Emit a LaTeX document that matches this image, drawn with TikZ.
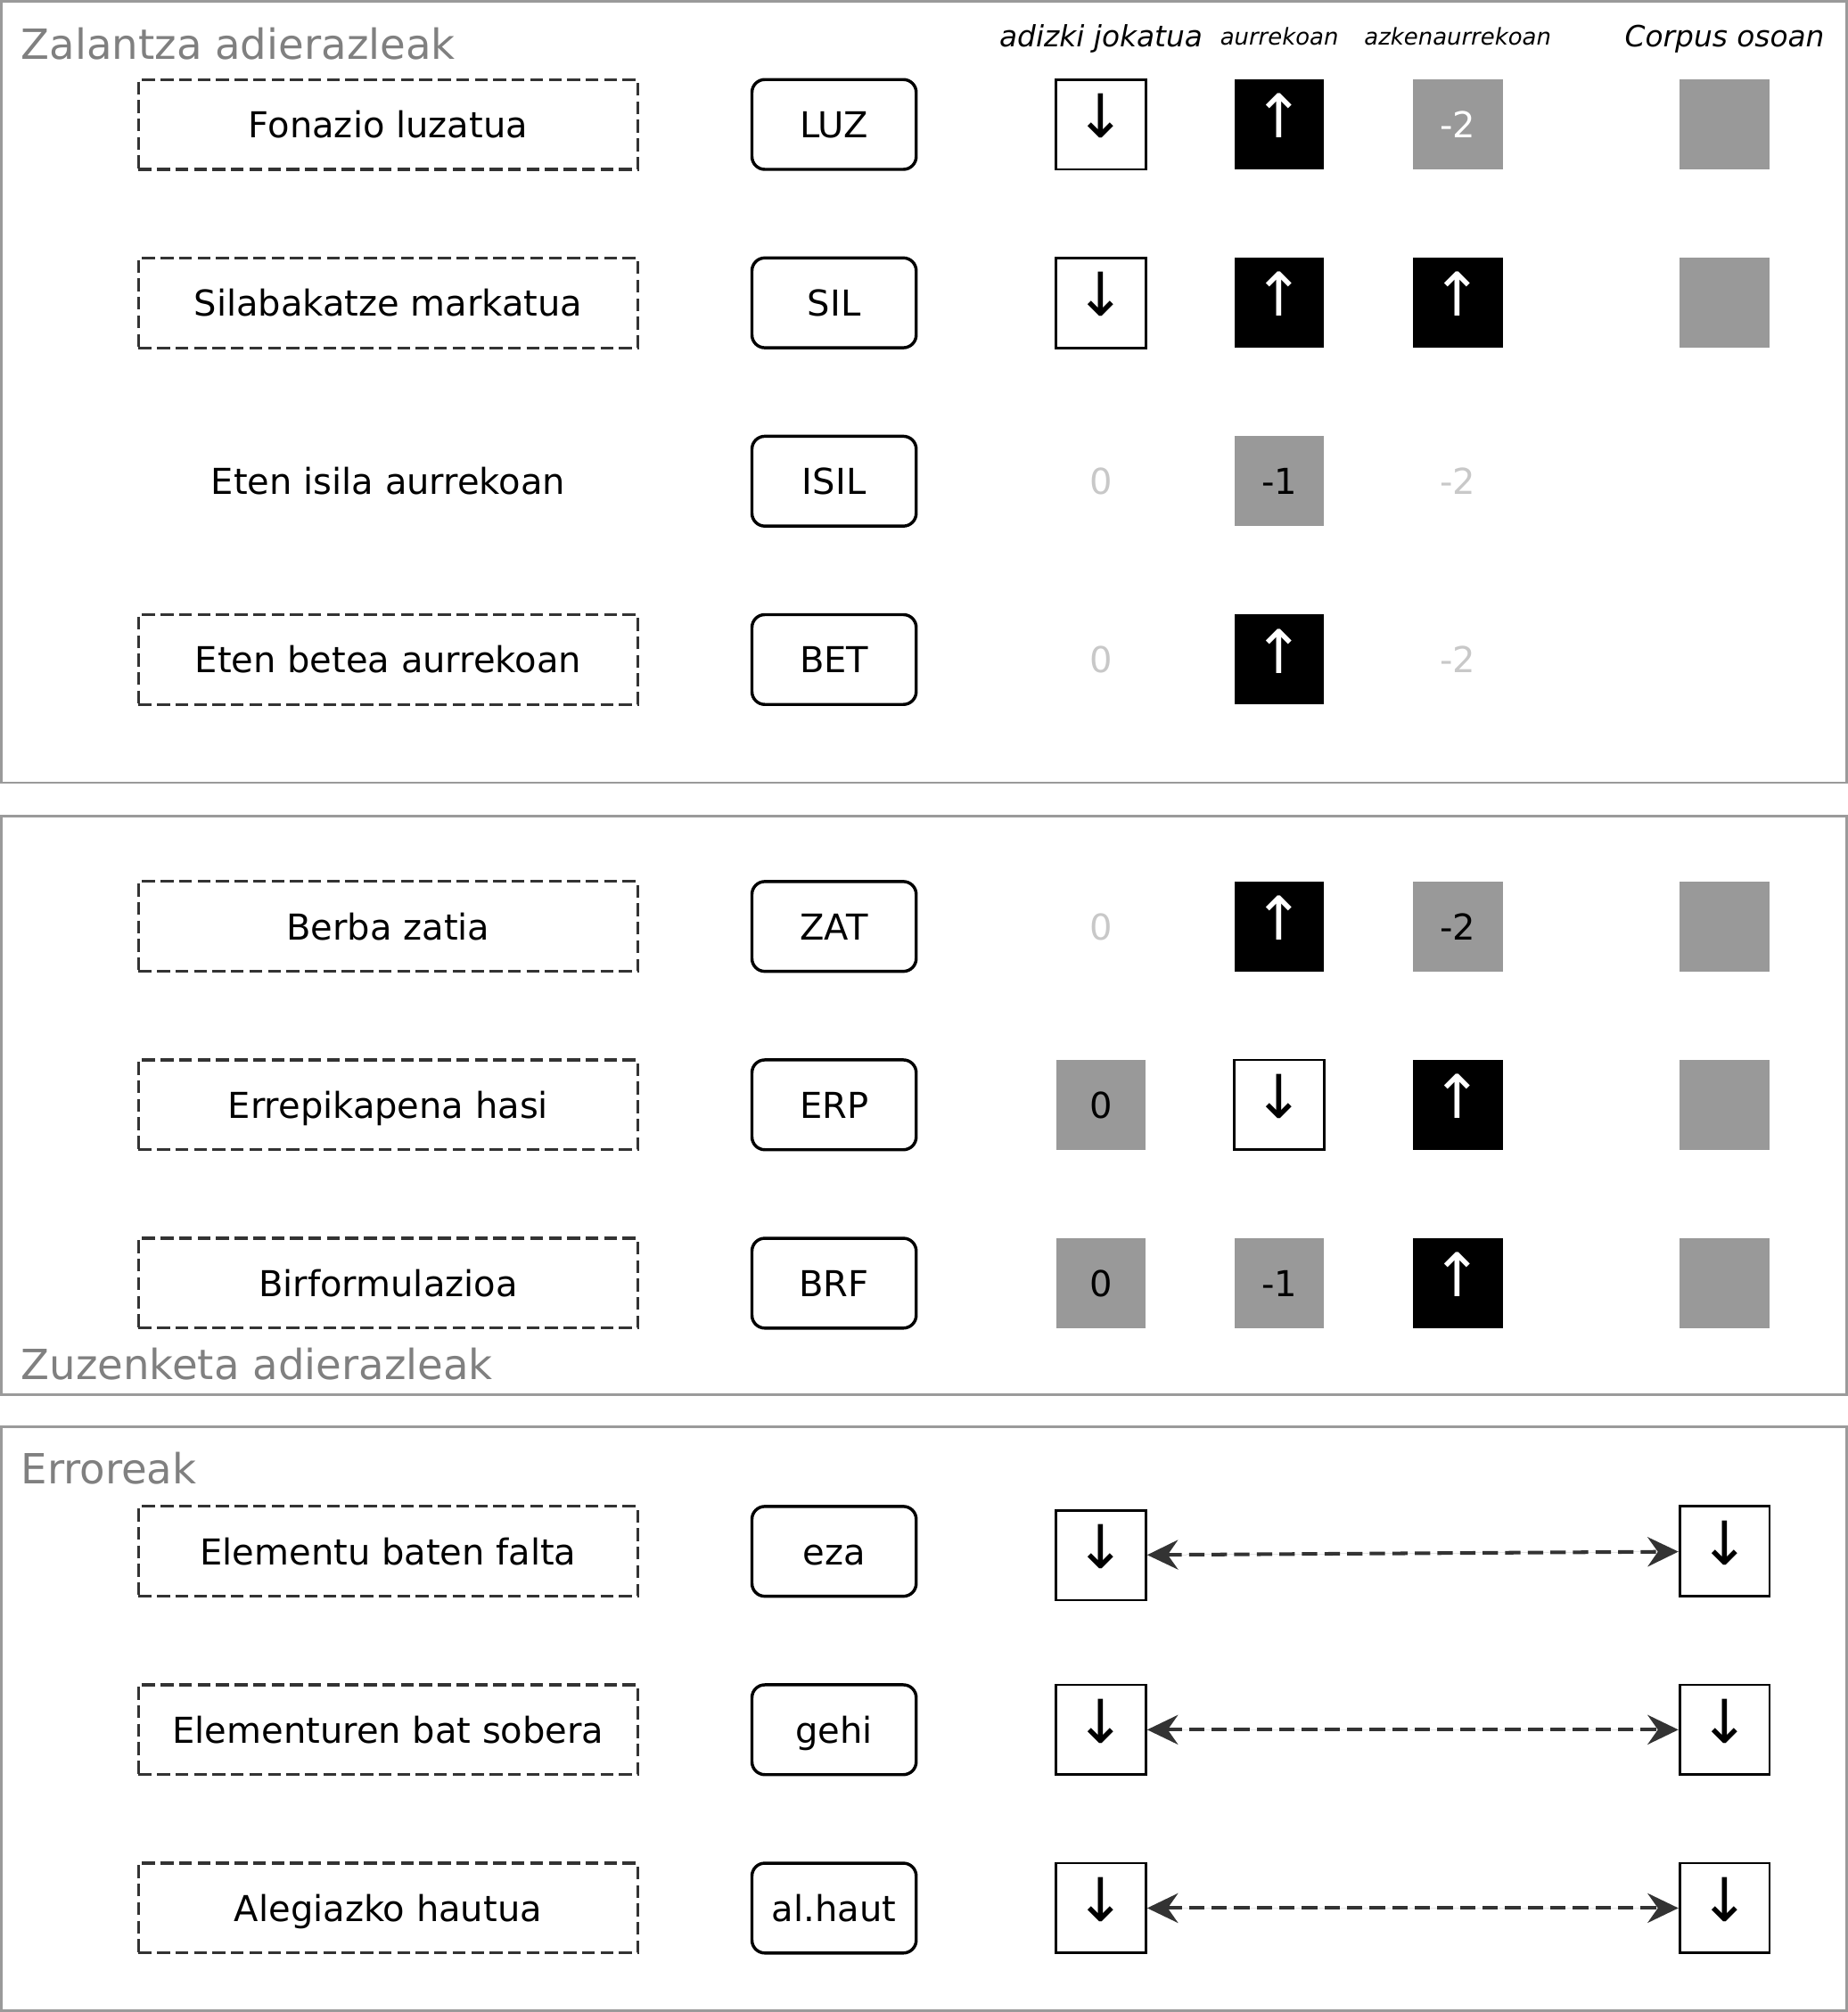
\documentclass[tikz,border=0pt]{standalone}
\usepackage{fontspec}
\setmainfont{DejaVu Sans}
\usetikzlibrary{arrows.meta}

\definecolor{framegray}{HTML}{9A9A9A}
\definecolor{titlegray}{HTML}{808080}
\definecolor{cellgray}{HTML}{999999}
\definecolor{zerogray}{HTML}{C8C8C8}
\definecolor{darkline}{HTML}{333333}

\newcommand{\arrowfont}{\fontsize{23.5}{24}\selectfont}
\newcommand{\boxfont}{\fontsize{13.9}{16}\selectfont}
\newcommand{\celldown}{\raisebox{3.3pt}[\height][\depth]{↓}}
\newcommand{\cellup}{\raisebox{3.3pt}[\height][\depth]{↑}}

\begin{document}
\begin{tikzpicture}[x=0.5pt, y=-0.5pt,
	panel/.style={draw=framegray, line width=1pt},
	paneltitle/.style={anchor=west, inner sep=0pt, text=titlegray, font=\fontsize{16.2}{19}\selectfont},
	header/.style={text depth=0pt, font=\fontsize{11.4}{14}\itshape},
	smallheader/.style={text depth=0pt, font=\fontsize{9}{11}\itshape},
	labelbox/.style={draw=darkline, dash pattern=on 5pt off 2.2pt, line width=1.1pt, minimum width=194.5pt, minimum height=35pt, text height=10.5pt, text depth=0pt, font=\boxfont},
	codebox/.style={draw, rounded corners=5pt, line width=1.2pt, minimum width=64pt, minimum height=35pt, text height=10.5pt, text depth=0pt, font=\boxfont},
	cellbox/.style={minimum size=35pt, inner sep=0pt, text height=10.5pt, text depth=0pt, font=\boxfont},
	arrowcell/.style={minimum size=35pt, inner sep=0pt, font=\arrowfont},
	whitecell/.style={arrowcell, draw, line width=1pt},
	blackcell/.style={arrowcell, fill=black, text=white},
	graycell/.style={cellbox, fill=cellgray},
	zerotext/.style={cellbox, text=zerogray},
	biarrow/.style={{Stealth[length=12pt, width=11.5pt, inset=4pt]}-{Stealth[length=12pt, width=11.5pt, inset=4pt]}, draw=darkline, fill=darkline, line width=1.4pt, dash pattern=on 6pt off 2.8pt}
	]
	\useasboundingbox (0,0) rectangle (1440,1568);

	% panels
	\draw[panel] (1,1) rectangle (1439,610);
	\draw[panel] (1,636) rectangle (1439,1087);
	\draw[panel] (1,1112) rectangle (1439,1567);
	\node[paneltitle] (zalantza) at (16,34) {Zalantza adierazleak};
	\node[paneltitle] (zuzenketa) at (16,1063) {Zuzenketa adierazleak};
	\node[paneltitle] (erroreak) at (16,1144) {Erroreak};

	% column headers
	\node[header] (h-adizki) at (858,28) {adizki jokatua};
	\node[smallheader] (h-aurre) at (997,28) {aurrekoan};
	\node[smallheader] (h-azken) at (1136,28) {azkenaurrekoan};
	\node[header] (h-corpus) at (1344,28) {Corpus osoan};

	% rows
	\foreach \name/\txt/\code/\yy in {luz/Fonazio luzatua/LUZ/97, sil/Silabakatze markatua/SIL/236, bet/Eten betea aurrekoan/BET/514, zat/Berba zatia/ZAT/722, erp/Errepikapena hasi/ERP/861, brf/Birformulazioa/BRF/1000, eza/Elementu baten falta/eza/1209, gehi/Elementuren bat sobera/gehi/1348, alh/Alegiazko hautua/al.haut/1487} {
		\node[labelbox] (\name-txt) at (302.5,\yy) {\txt};
		\node[codebox] (\name-code) at (650,\yy) {\code};
	}
	\node[cellbox] (isil-txt) at (302.5,375) {Eten isila aurrekoan};
	\node[codebox] (isil-code) at (650,375) {ISIL};

	% cells
	\node[whitecell] (luz-c1) at (858,97) {\celldown};
	\node[blackcell] (luz-c2) at (997,97) {\cellup};
	\node[graycell, text=white] (luz-c3) at (1136,97) {-2};
	\node[graycell] (luz-c4) at (1344,97) {};

	\node[whitecell] (sil-c1) at (858,236) {\celldown};
	\node[blackcell] (sil-c2) at (997,236) {\cellup};
	\node[blackcell] (sil-c3) at (1136,236) {\cellup};
	\node[graycell] (sil-c4) at (1344,236) {};

	\node[zerotext] (isil-c1) at (858,375) {0};
	\node[graycell] (isil-c2) at (997,375) {-1};
	\node[zerotext] (isil-c3) at (1136,375) {-2};

	\node[zerotext] (bet-c1) at (858,514) {0};
	\node[blackcell] (bet-c2) at (997,514) {\cellup};
	\node[zerotext] (bet-c3) at (1136,514) {-2};

	\node[zerotext] (zat-c1) at (858,722) {0};
	\node[blackcell] (zat-c2) at (997,722) {\cellup};
	\node[graycell] (zat-c3) at (1136,722) {-2};
	\node[graycell] (zat-c4) at (1344,722) {};

	\node[graycell] (erp-c1) at (858,861) {0};
	\node[whitecell] (erp-c2) at (997,861) {\celldown};
	\node[blackcell] (erp-c3) at (1136,861) {\cellup};
	\node[graycell] (erp-c4) at (1344,861) {};

	\node[graycell] (brf-c1) at (858,1000) {0};
	\node[graycell] (brf-c2) at (997,1000) {-1};
	\node[blackcell] (brf-c3) at (1136,1000) {\cellup};
	\node[graycell] (brf-c4) at (1344,1000) {};

	% errors
	\node[whitecell] (eza-c1) at (858,1212) {\celldown};
	\node[whitecell] (eza-c4) at (1344,1209) {\celldown};
	\node[whitecell] (gehi-c1) at (858,1348) {\celldown};
	\node[whitecell] (gehi-c4) at (1344,1348) {\celldown};
	\node[whitecell] (alh-c1) at (858,1487) {\celldown};
	\node[whitecell] (alh-c4) at (1344,1487) {\celldown};

	\draw[biarrow] (eza-c1) -- (eza-c4);
	\draw[biarrow] (gehi-c1) -- (gehi-c4);
	\draw[biarrow] (alh-c1) -- (alh-c4);
\end{tikzpicture}
\end{document}
